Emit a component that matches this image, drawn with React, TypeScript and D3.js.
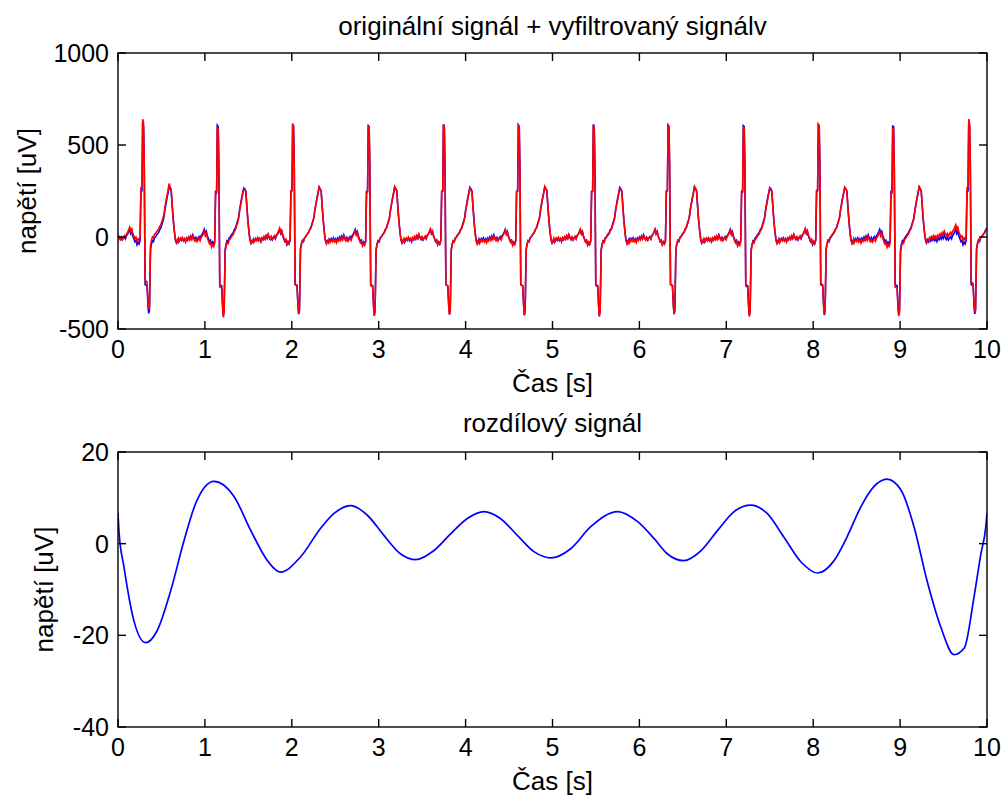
import React from "react";
import * as d3 from "d3";

// ---- data ----
const topTitle = "originální signál + vyfiltrovaný signálv";
const bottomTitle = "rozdílový signál";
const xLabel = "Čas [s]";
const yLabel = "napětí [uV]";

const xTicks = [0, 1, 2, 3, 4, 5, 6, 7, 8, 9, 10];
const topYTicks = [-500, 0, 500, 1000];
const bottomYTicks = [-40, -20, 0, 20];

// R-peak times of each heartbeat (s)
const beatTimes = [0.284, 1.143, 2.01, 2.88, 3.745, 4.607, 5.47, 6.33, 7.196, 8.059, 8.915, 9.79];
const rPeaks = [620, 607, 612, 605, 612, 608, 612, 607, 605, 607, 602, 623];
const sTroughs = [-415, -425, -420, -425, -420, -425, -428, -420, -425, -425, -418, -418];
const tPeaks = [279, 266, 272, 272, 270, 272, 270, 272, 268, 270, 272, 270];

// one beat of the original ECG: [offset from R peak (s), value uV or role]
const beatTemplate: [number, number | string][] = [
  [-0.45, -12], [-0.438, -22], [-0.426, -8], [-0.414, -18], [-0.402, -5], [-0.39, -20],
  [-0.378, -10], [-0.366, -25], [-0.354, -6], [-0.342, -15], [-0.33, 0], [-0.318, -12],
  [-0.306, 5], [-0.294, -8], [-0.282, 12], [-0.27, -4], [-0.258, -14], [-0.246, -2],
  [-0.234, -16], [-0.222, -6], [-0.21, 2], [-0.198, -10], [-0.186, 8], [-0.174, 15],
  [-0.162, 28], [-0.15, 42], [-0.138, 18], [-0.126, 30], [-0.114, 5], [-0.102, -10],
  [-0.09, -25], [-0.078, -18], [-0.066, -42], [-0.054, -28], [-0.042, -38], [-0.03, -20],
  [-0.02, 248], [-0.008, 250], [0, "R"], [0.01, 600], [0.018, 387], [0.028, -259],
  [0.05, -265], [0.062, -380], [0.069, "S"], [0.078, -400], [0.09, -69], [0.1, -40],
  [0.112, -20], [0.124, -25], [0.136, -5], [0.148, 0], [0.16, 10], [0.172, 18],
  [0.184, 25], [0.196, 40], [0.208, 48], [0.22, 67], [0.232, 85], [0.244, 105],
  [0.256, 148], [0.268, 180], [0.28, 212], [0.292, 240], [0.304, "T"], [0.316, 262],
  [0.328, 250], [0.34, 166], [0.352, 90], [0.364, 30], [0.376, -15], [0.388, -33],
  [0.4, -20], [0.412, -28],
];

// difference signal (original - filtered)
const diffTimes = [0, 0.012, 0.069, 0.184, 0.318, 0.45, 0.606, 0.76, 0.894, 1.105, 1.335, 1.527, 1.72, 1.87, 2.1, 2.33, 2.486, 2.677, 2.87, 3.06, 3.25, 3.425, 3.636, 3.83, 4.02, 4.21, 4.4, 4.596, 4.79, 4.98, 5.21, 5.44, 5.75, 5.98, 6.17, 6.32, 6.51, 6.71, 6.9, 7.09, 7.28, 7.47, 7.66, 7.86, 8.05, 8.24, 8.39, 8.55, 8.7, 8.85, 9.01, 9.16, 9.31, 9.47, 9.62, 9.74, 9.85, 9.93, 9.985, 10.0];
const diffValues = [6.6, 2.5, -5.1, -16.9, -21.6, -19, -10.3, 0.7, 8.8, 13.6, 10.3, 2.9, -3.7, -6.2, -2.9, 3.3, 6.6, 8.3, 6.2, 1.8, -2.2, -3.5, -1.5, 2.2, 5.5, 7.0, 5.5, 1.8, -1.8, -3.1, -1.1, 3.7, 7.0, 4.8, 1.1, -2.2, -3.7, -1.5, 2.9, 7.0, 8.4, 6.6, 1.5, -4.0, -6.4, -3.7, 1.5, 8.1, 12.5, 14.1, 11.7, 3.7, -8.1, -18.3, -24.2, -22.7, -11.7, -2.2, 3.5, 6.6];

// ---- build series ----
type P = { t: number; v: number };
const original: P[] = [];
beatTimes.forEach((bt, i) => {
  beatTemplate.forEach(([off, val]) => {
    const t = bt + off;
    if (t < 0 || t > 10) return;
    let v: number;
    if (val === "R") v = rPeaks[i];
    else if (val === "S") v = sTroughs[i];
    else if (val === "T") v = tPeaks[i];
    else v = val as number;
    original.push({ t, v });
  });
});
original.sort((a, b) => a.t - b.t);
const diffScale = d3.scaleLinear().domain(diffTimes).range(diffValues).clamp(true);
const filtered: P[] = original.map((p) => ({ t: p.t, v: p.v - diffScale(p.t) }));
const diffSeries: P[] = diffTimes.map((t, i) => ({ t, v: diffValues[i] }));

const FONT = "'Liberation Sans', Arial, Helvetica, sans-serif";
const TICK = 8;

function Axes(props: {
  x0: number; x1: number; y0: number; y1: number;
  yDomain: [number, number]; yTicks: number[];
  title: string; titleY: number; labelY: number; ylabelX: number;
  children: (x: d3.ScaleLinear<number, number>, y: d3.ScaleLinear<number, number>) => React.ReactNode;
}) {
  const { x0, x1, y0, y1 } = props;
  const x = d3.scaleLinear().domain([0, 10]).range([x0, x1]);
  const y = d3.scaleLinear().domain(props.yDomain).range([y1, y0]);
  const clipId = "clip" + Math.round(y0);
  return (
    <g>
      <defs>
        <clipPath id={clipId}>
          <rect x={x0} y={y0 - 2} width={x1 - x0} height={y1 - y0 + 4} />
        </clipPath>
      </defs>
      <rect x={x0} y={y0} width={x1 - x0} height={y1 - y0} fill="#fff" />
      <g clipPath={`url(#${clipId})`}>{props.children(x, y)}</g>
      <rect x={x0} y={y0} width={x1 - x0} height={y1 - y0} fill="none" stroke="#000" strokeWidth={1.4} />
      {xTicks.map((t) => (
        <g key={"xt" + t}>
          <line x1={x(t)} x2={x(t)} y1={y1} y2={y1 - TICK} stroke="#000" strokeWidth={1.4} />
          <line x1={x(t)} x2={x(t)} y1={y0} y2={y0 + TICK} stroke="#000" strokeWidth={1.4} />
          <text x={x(t)} y={y1 + 29} fontSize={25} fontFamily={FONT} textAnchor="middle">{t}</text>
        </g>
      ))}
      {props.yTicks.map((t) => (
        <g key={"yt" + t}>
          <line x1={x0} x2={x0 + TICK} y1={y(t)} y2={y(t)} stroke="#000" strokeWidth={1.4} />
          <line x1={x1} x2={x1 - TICK} y1={y(t)} y2={y(t)} stroke="#000" strokeWidth={1.4} />
          <text x={x0 - 9} y={y(t) + 9} fontSize={25} fontFamily={FONT} textAnchor="end">{t}</text>
        </g>
      ))}
      <text x={(x0 + x1) / 2} y={props.titleY} fontSize={26} fontFamily={FONT} textAnchor="middle">{props.title}</text>
      <text x={(x0 + x1) / 2} y={props.labelY} fontSize={26} fontFamily={FONT} textAnchor="middle">{xLabel}</text>
      <text
        transform={`translate(${props.ylabelX},${(y0 + y1) / 2}) rotate(-90)`}
        fontSize={26} fontFamily={FONT} textAnchor="middle"
      >{yLabel}</text>
    </g>
  );
}

export default function App() {
  const lineGen = (x: d3.ScaleLinear<number, number>, y: d3.ScaleLinear<number, number>) =>
    d3.line<P>().x((d) => x(d.t)).y((d) => y(d.v));
  return (
    <svg width={1005} height={796} style={{ position: "absolute", left: 0, top: 0, background: "#fff" }}>
      <rect x={0} y={0} width={1005} height={796} fill="#fff" />
      <Axes x0={118} x1={987} y0={53} y1={329} yDomain={[-500, 1000]} yTicks={topYTicks}
        title={topTitle} titleY={35} labelY={392} ylabelX={36}>
        {(x, y) => (
          <>
            <path d={lineGen(x, y)(original) || ""} fill="none" stroke="#0000ff" strokeWidth={1.6} />
            <path d={lineGen(x, y)(filtered) || ""} fill="none" stroke="#ff0000" strokeWidth={1.6} />
          </>
        )}
      </Axes>
      <Axes x0={118} x1={987} y0={452} y1={727} yDomain={[-40, 20]} yTicks={bottomYTicks}
        title={bottomTitle} titleY={432} labelY={790} ylabelX={53}>
        {(x, y) => (
          <path
            d={d3.line<P>().x((d) => x(d.t)).y((d) => y(d.v)).curve(d3.curveMonotoneX)(diffSeries) || ""}
            fill="none" stroke="#0000ff" strokeWidth={1.7}
          />
        )}
      </Axes>
    </svg>
  );
}
